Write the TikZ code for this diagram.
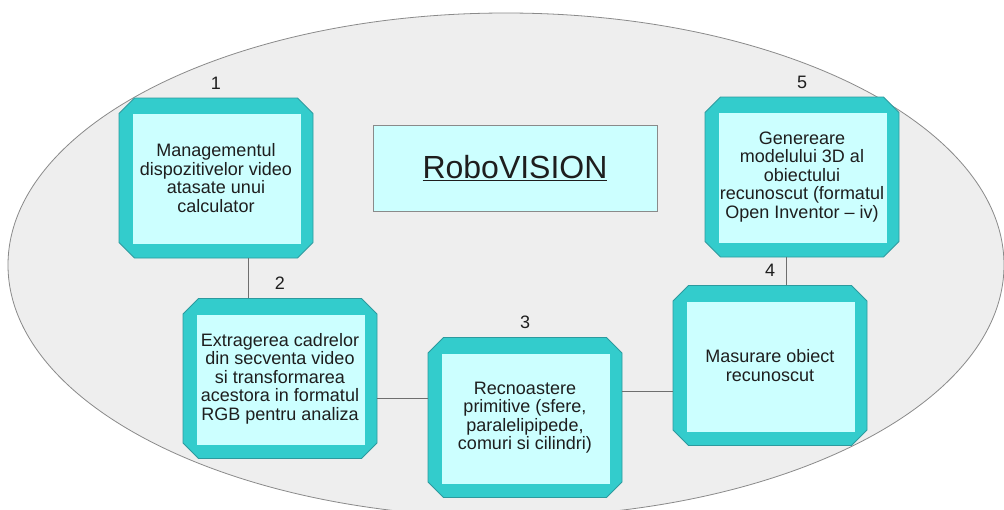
\documentclass[tikz,border=0pt]{standalone}
\usepackage{fontspec}
\setmainfont{Liberation Sans}
\usetikzlibrary{shapes.misc,positioning,calc}
\definecolor{tealfill}{HTML}{33CCCC}
\definecolor{panefill}{HTML}{CCFFFF}
\definecolor{ovalfill}{HTML}{EEEEEE}
\definecolor{ovalline}{HTML}{8A8A8A}
\definecolor{rimline}{HTML}{2C9A9E}
\definecolor{linkline}{HTML}{6E6E6E}
\definecolor{inkcol}{HTML}{1E1E1E}

\begin{document}
\begin{tikzpicture}[x=1pt,y=-1pt,oval/.style={fill=ovalfill, draw=ovalline, line width=0.8pt},stage/.style={chamfered rectangle, chamfered rectangle xsep=12pt, draw=rimline, line width=0.8pt, fill=tealfill, minimum width=194pt, minimum height=160pt, inner sep=0pt, align=center, text=inkcol, font=\fontsize{18}{18.5}\selectfont, path picture={\fill[panefill] ([xshift=14pt,yshift=-16pt]path picture bounding box.north west) rectangle ([xshift=-12pt,yshift=14pt]path picture bounding box.south east);}},titlebox/.style={draw=ovalline, line width=0.8pt, fill=panefill, minimum width=284pt, minimum height=86pt, text=inkcol, font=\fontsize{32}{36}\selectfont},numlbl/.style={inner sep=0pt, text=inkcol, font=\fontsize{18}{18}\selectfont},link/.style={draw=linkline, line width=0.9pt}]
\fill[white] (0,0) rectangle (1004,509); \clip (0,0) rectangle (1004,509);
\draw[oval] (506,265) ellipse [x radius=498pt, y radius=252pt];
\node[titlebox] (T) at (515,168) {\underline{RoboVISION}};
\node[stage] (B1) at (216,178) {Managementul\\dispozitivelor video\\atasate unui\\calculator};
\node[stage] (B2) at (280,378.5) {Extragerea cadrelor\\din secventa video\\si transformarea\\acestora in formatul\\RGB pentru analiza};
\node[stage] (B3) at (525,417.5) {Recnoastere\\primitive (sfere,\\paralelipipede,\\comuri si cilindri)};
\node[stage] (B4) at (770,365.5) {Masurare obiect\\recunoscut};
\node[stage] (B5) at (802,177) {Genereare\\modelului 3D al\\obiectului\\recunoscut (formatul\\Open Inventor – iv)};
\node[numlbl, above=8pt of B1] (n1) {1}; \node[numlbl, above=8pt of B2] (n2) {2}; \node[numlbl, above=8pt of B3] (n3) {3};
\node[numlbl, above=8pt of B4] (n4) {4}; \node[numlbl, above=8pt of B5] (n5) {5};
\coordinate (m12) at ($(B1.south)!.5!(B2.north)$); \draw[link] (B1.south -| m12) -- (B2.north -| m12);
\coordinate (m23) at ($(B2.east)!.5!(B3.west)$); \draw[link] (B2.east |- m23) -- (B3.west |- m23);
\coordinate (m34) at ($(B3.east)!.5!(B4.west)$); \draw[link] (B3.east |- m34) -- (B4.west |- m34);
\coordinate (m54) at ($(B5.south)!.5!(B4.north)$); \draw[link] (B5.south -| m54) -- (B4.north -| m54);
\end{tikzpicture}
\end{document}
